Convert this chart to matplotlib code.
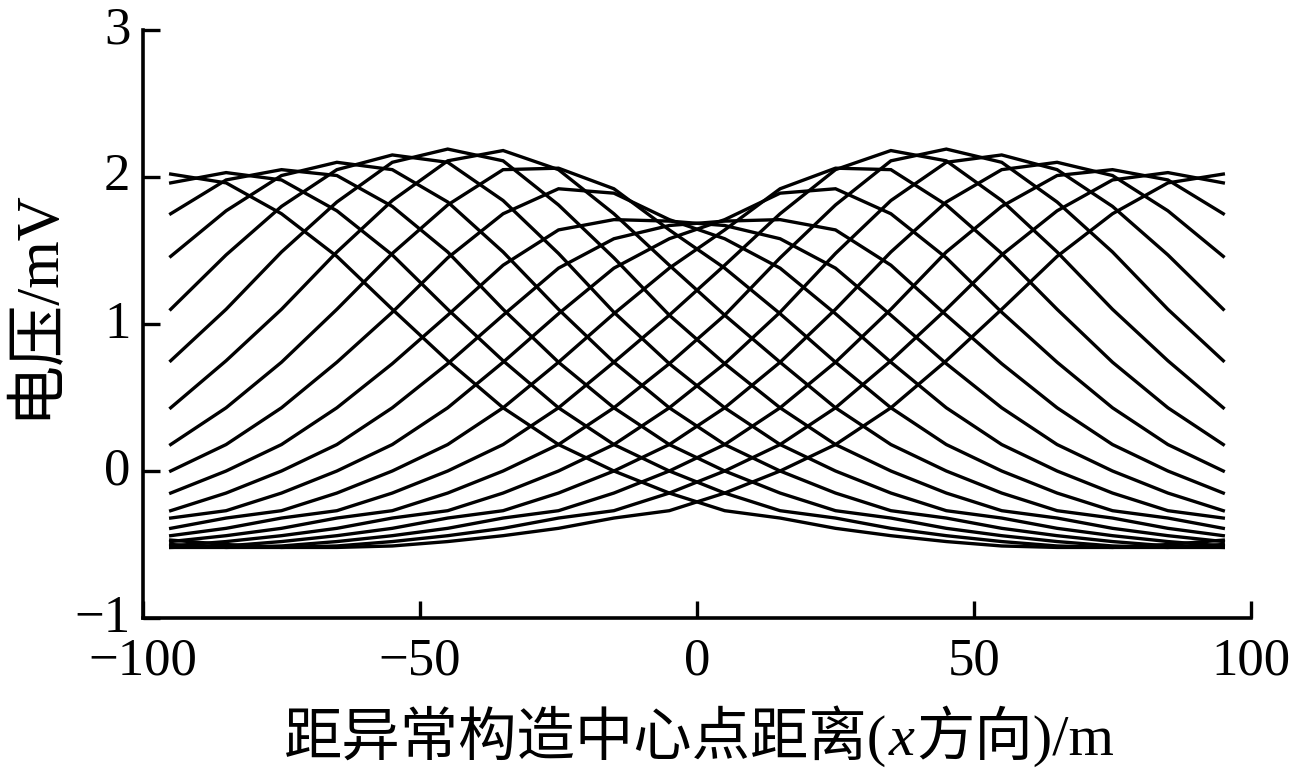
import matplotlib
matplotlib.use("Agg")
import matplotlib.pyplot as plt
from matplotlib.offsetbox import TextArea, HPacker, AnchoredOffsetbox
from matplotlib.transforms import ScaledTranslation

plt.rcParams['font.family'] = ['Liberation Serif', 'Noto Sans CJK SC', 'DejaVu Sans']
plt.rcParams['axes.unicode_minus'] = True

# measuring positions along the profile (m)
x_pos = [-95, -85, -75, -65, -55, -45, -35, -25, -15, -5,
         5, 15, 25, 35, 45, 55, 65, 75, 85, 95]

# voltage curves (mV), one per source position
v_m95 = [2.02, 1.96, 1.75, 1.46, 1.10, 0.75, 0.43, 0.18, 0.00, -0.15, -0.27, -0.32, -0.39, -0.44, -0.48, -0.51, -0.52, -0.52, -0.50, -0.47]
v_m85 = [1.96, 2.03, 1.98, 1.77, 1.47, 1.10, 0.75, 0.43, 0.18, 0.00, -0.15, -0.27, -0.32, -0.39, -0.44, -0.48, -0.51, -0.52, -0.52, -0.50]
v_m75 = [1.75, 1.98, 2.05, 2.01, 1.80, 1.49, 1.10, 0.74, 0.43, 0.18, 0.00, -0.15, -0.27, -0.32, -0.39, -0.44, -0.48, -0.51, -0.52, -0.52]
v_m65 = [1.46, 1.77, 2.01, 2.10, 2.05, 1.83, 1.49, 1.10, 0.74, 0.43, 0.18, 0.00, -0.15, -0.27, -0.32, -0.39, -0.44, -0.48, -0.51, -0.52]
v_m55 = [1.10, 1.47, 1.80, 2.05, 2.15, 2.10, 1.84, 1.48, 1.08, 0.73, 0.43, 0.18, 0.00, -0.15, -0.27, -0.32, -0.39, -0.44, -0.48, -0.51]
v_m45 = [0.75, 1.10, 1.49, 1.83, 2.10, 2.19, 2.11, 1.81, 1.45, 1.06, 0.73, 0.43, 0.18, 0.00, -0.15, -0.27, -0.32, -0.39, -0.44, -0.48]
v_m35 = [0.43, 0.75, 1.10, 1.49, 1.84, 2.11, 2.18, 2.05, 1.75, 1.40, 1.06, 0.74, 0.43, 0.18, 0.00, -0.15, -0.27, -0.32, -0.39, -0.44]
v_m25 = [0.18, 0.43, 0.74, 1.10, 1.48, 1.81, 2.05, 2.06, 1.92, 1.64, 1.38, 1.07, 0.74, 0.43, 0.18, 0.00, -0.15, -0.27, -0.32, -0.39]
v_m15 = [0.00, 0.18, 0.43, 0.74, 1.08, 1.45, 1.75, 1.92, 1.89, 1.71, 1.58, 1.38, 1.07, 0.74, 0.43, 0.18, 0.00, -0.15, -0.27, -0.32]
v_m05 = [-0.15, 0.00, 0.18, 0.43, 0.73, 1.06, 1.40, 1.64, 1.71, 1.70, 1.67, 1.58, 1.38, 1.06, 0.73, 0.43, 0.18, 0.00, -0.15, -0.27]
v_p05 = [-0.27, -0.15, 0.00, 0.18, 0.43, 0.73, 1.06, 1.38, 1.58, 1.67, 1.70, 1.71, 1.64, 1.40, 1.06, 0.73, 0.43, 0.18, 0.00, -0.15]
v_p15 = [-0.32, -0.27, -0.15, 0.00, 0.18, 0.43, 0.74, 1.07, 1.38, 1.58, 1.71, 1.89, 1.92, 1.75, 1.45, 1.08, 0.74, 0.43, 0.18, 0.00]
v_p25 = [-0.39, -0.32, -0.27, -0.15, 0.00, 0.18, 0.43, 0.74, 1.07, 1.38, 1.64, 1.92, 2.06, 2.05, 1.81, 1.48, 1.10, 0.74, 0.43, 0.18]
v_p35 = [-0.44, -0.39, -0.32, -0.27, -0.15, 0.00, 0.18, 0.43, 0.74, 1.06, 1.40, 1.75, 2.05, 2.18, 2.11, 1.84, 1.49, 1.10, 0.75, 0.43]
v_p45 = [-0.48, -0.44, -0.39, -0.32, -0.27, -0.15, 0.00, 0.18, 0.43, 0.73, 1.06, 1.45, 1.81, 2.11, 2.19, 2.10, 1.83, 1.49, 1.10, 0.75]
v_p55 = [-0.51, -0.48, -0.44, -0.39, -0.32, -0.27, -0.15, 0.00, 0.18, 0.43, 0.73, 1.08, 1.48, 1.84, 2.10, 2.15, 2.05, 1.80, 1.47, 1.10]
v_p65 = [-0.52, -0.51, -0.48, -0.44, -0.39, -0.32, -0.27, -0.15, 0.00, 0.18, 0.43, 0.74, 1.10, 1.49, 1.83, 2.05, 2.10, 2.01, 1.77, 1.46]
v_p75 = [-0.52, -0.52, -0.51, -0.48, -0.44, -0.39, -0.32, -0.27, -0.15, 0.00, 0.18, 0.43, 0.74, 1.10, 1.49, 1.80, 2.01, 2.05, 1.98, 1.75]
v_p85 = [-0.50, -0.52, -0.52, -0.51, -0.48, -0.44, -0.39, -0.32, -0.27, -0.15, 0.00, 0.18, 0.43, 0.75, 1.10, 1.47, 1.77, 1.98, 2.03, 1.96]
v_p95 = [-0.47, -0.50, -0.52, -0.52, -0.51, -0.48, -0.44, -0.39, -0.32, -0.27, -0.15, 0.00, 0.18, 0.43, 0.75, 1.10, 1.46, 1.75, 1.96, 2.02]

curves = [v_m95, v_m85, v_m75, v_m65, v_m55, v_m45, v_m35, v_m25, v_m15, v_m05,
          v_p05, v_p15, v_p25, v_p35, v_p45, v_p55, v_p65, v_p75, v_p85, v_p95]

x_ticks = [-100, -50, 0, 50, 100]
y_ticks = [-1, 0, 1, 2, 3]
x_label_parts = ['距异常构造中心点距离(', 'x', '方向)/m']
y_label = '电压/mV'

FAM = ['Liberation Serif', 'Noto Sans CJK SC', 'DejaVu Sans']
TICK_FS = 38
LABEL_FS = 42

fig = plt.figure(figsize=(12.95, 7.80), dpi=100)
ax = fig.add_axes([143/1295, 1 - 618/780, (1251 - 143)/1295, (618 - 30)/780])

for v in curves:
    ax.plot(x_pos, v, color='black', linewidth=2.4, solid_joinstyle='miter')

ax.set_xlim(-100, 100)
ax.set_ylim(-1, 3)
ax.set_xticks(x_ticks)
ax.set_yticks(y_ticks)
ax.set_xticklabels([str(t).replace('-', '\u2212') for t in x_ticks])
ax.set_yticklabels([str(t).replace('-', '\u2212') for t in y_ticks])

for s in ['top', 'right']:
    ax.spines[s].set_visible(False)
for s in ['left', 'bottom']:
    ax.spines[s].set_linewidth(2.6)
    ax.spines[s].set_capstyle('projecting')

ax.tick_params(axis='both', direction='in', length=12, width=2.4,
               labelsize=TICK_FS)
ax.tick_params(axis='x', pad=14)
ax.tick_params(axis='y', pad=9)

# y tick labels sit slightly above their ticks in the reference
shift_up = ScaledTranslation(0, 0.05, fig.dpi_scale_trans)
for lbl in ax.get_yticklabels():
    lbl.set_transform(lbl.get_transform() + shift_up)

# y label, centred around x = 36 px
ax.set_ylabel(y_label, fontsize=44, family=FAM)
ax.yaxis.label.set_va('center')
ax.yaxis.set_label_coords((36 - 143) / 1108, 0.535)

# x label with italic x
parts = []
for i, p in enumerate(x_label_parts):
    style = 'italic' if i == 1 else 'normal'
    parts.append(TextArea(p, textprops=dict(fontsize=LABEL_FS, family=FAM,
                                            fontstyle=style, color='black')))
box = HPacker(children=parts, align='baseline', pad=0, sep=1)
anch = AnchoredOffsetbox(loc='center', child=box, pad=0, borderpad=0,
                         frameon=False, bbox_to_anchor=(699/1295, 1 - 736/780),
                         bbox_transform=fig.transFigure)
fig.add_artist(anch)

fig.savefig('out.png', dpi=100)
